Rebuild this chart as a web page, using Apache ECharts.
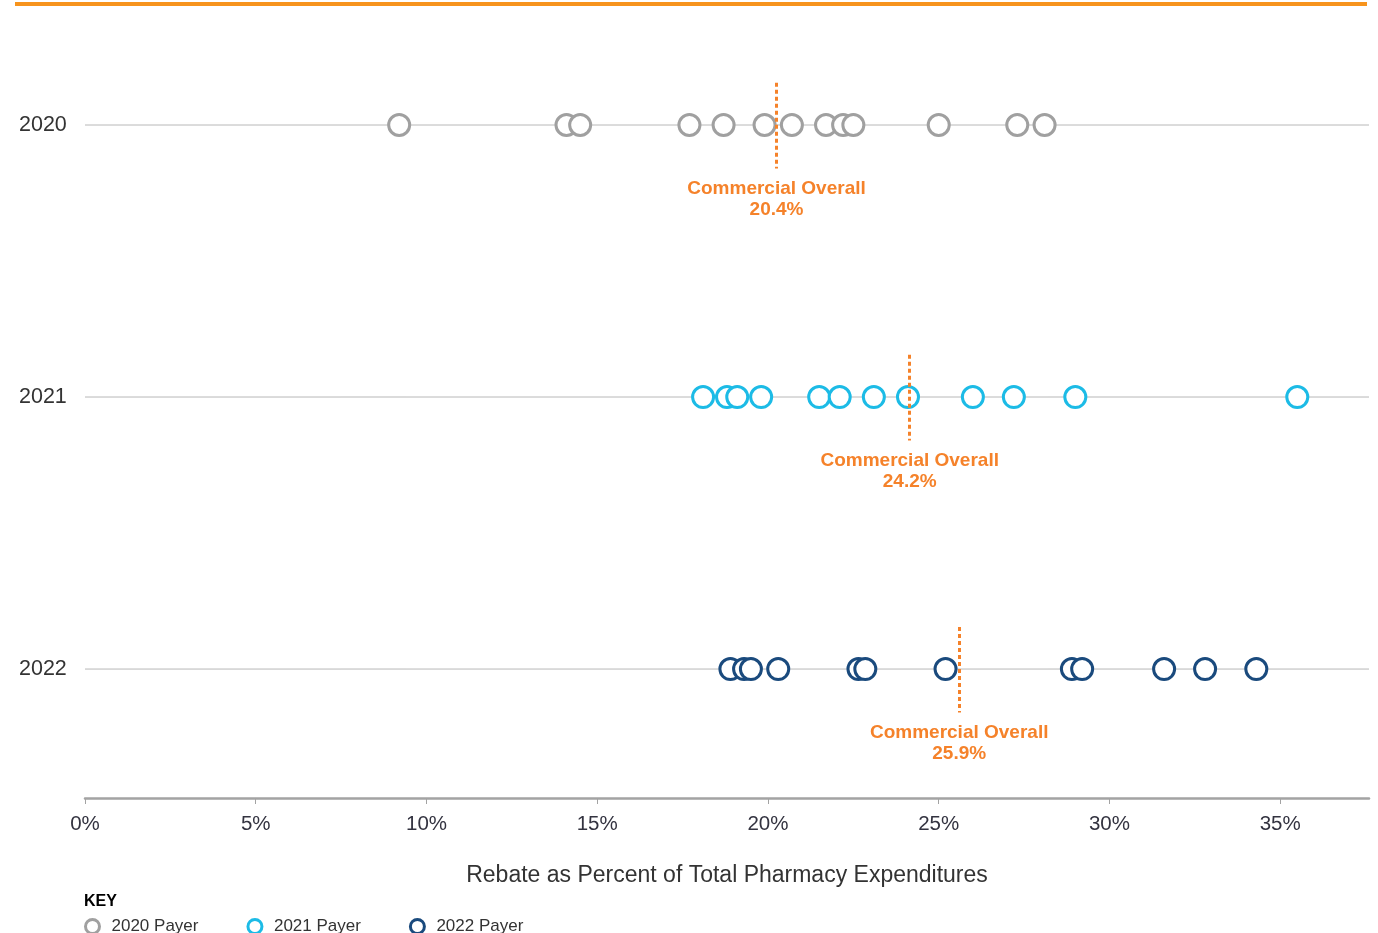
<!DOCTYPE html>
<html>
<head>
<meta charset="utf-8">
<title>Rebate as Percent of Total Pharmacy Expenditures</title>
<script src="https://cdn.jsdelivr.net/npm/echarts@6/dist/echarts.min.js"></script>
<style>
  html, body { margin: 0; padding: 0; background: #fff; }
  #chart { width: 1378px; height: 933px; }
</style>
</head>
<body>
<div id="chart"></div>
<script>
// 年份（从上到下）
const years = ["2020", "2021", "2022"];
const seriesNames = ["2020 Payer", "2021 Payer", "2022 Payer"];
const colors = ["#a0a0a0", "#1cbbe6", "#1a4a7d"];

// 各年度付款方返利比例 (%)
const payers2020 = [9.2, 14.1, 14.5, 17.7, 18.7, 19.9, 20.7, 21.7, 22.2, 22.5, 25.0, 27.3, 28.1];
const payers2021 = [18.1, 18.8, 19.1, 19.8, 21.5, 22.1, 23.1, 24.1, 26.0, 27.2, 29.0, 35.5];
const payers2022 = [18.9, 19.3, 19.5, 20.3, 22.65, 22.85, 25.2, 28.9, 29.2, 31.6, 32.8, 34.3];

// Commercial Overall
const overallLabel = [20.4, 24.2, 25.9];
const overallLinePos = [20.25, 24.15, 25.6];

const xTicks = [0, 5, 10, 15, 20, 25, 30, 35];
const xMax = 37.6;

const payers = [payers2020, payers2021, payers2022];
// 2020 在最上面
const rowOf = (i) => years.length - 1 - i;

const chart = echarts.init(document.getElementById("chart"));

const series = [];
// 行背景线
years.forEach((y, i) => {
  series.push({
    type: "line",
    silent: true,
    z: 1,
    symbol: "none",
    lineStyle: { color: "#b8b8b8", width: 1 },
    data: [[0, rowOf(i)], [xMax, rowOf(i)]]
  });
});
// 散点
payers.forEach((vals, i) => {
  series.push({
    name: seriesNames[i],
    type: "scatter",
    z: 3,
    symbol: "circle",
    symbolSize: 21,
    itemStyle: { color: "#fff", borderColor: colors[i], borderWidth: 3, opacity: 1 },
    emphasis: { disabled: true },
    data: vals.map((v) => [v, rowOf(i)]),
    markLine: {
      silent: true,
      symbol: ["none", "none"],
      lineStyle: { color: "#f5822a", width: 3, type: [4, 3] },
      label: {
        show: true,
        position: "end",
        distance: 10,
        color: "#f5822a",
        fontFamily: "Liberation Sans, Arial, sans-serif",
        fontWeight: "bold",
        fontSize: 19,
        lineHeight: 21,
        align: "center",
        formatter: "Commercial Overall\n" + overallLabel[i].toFixed(1) + "%"
      },
      data: [[
        { coord: [overallLinePos[i], rowOf(i) + 0.155] },
        { coord: [overallLinePos[i], rowOf(i) - 0.16] }
      ]]
    }
  });
});

const option = {
  animation: false,
  backgroundColor: "#fff",
  textStyle: { fontFamily: "Liberation Sans, Arial, sans-serif" },
  title: {
    text: "KEY",
    left: 79,
    top: 889,
    textStyle: { fontSize: 16, fontWeight: "bold", color: "#000" }
  },
  legend: {
    left: 79,
    top: 913,
    itemWidth: 14,
    itemHeight: 14,
    itemGap: 48,
    icon: "circle",
    textStyle: { fontSize: 17, color: "#333", padding: [0, 0, 0, 7] },
    data: seriesNames.map((n, i) => ({
      name: n,
      itemStyle: { color: "#fff", borderColor: colors[i], borderWidth: 3 }
    }))
  },
  graphic: [{
    type: "rect",
    left: 15,
    top: 2,
    shape: { width: 1352, height: 4 },
    style: { fill: "#f7941d" }
  }],
  grid: { left: 85, right: 9, top: 20, bottom: 135 },
  xAxis: {
    type: "value",
    min: 0,
    max: xMax,
    interval: 5,
    name: "Rebate as Percent of Total Pharmacy Expenditures",
    nameLocation: "middle",
    nameGap: 66,
    nameTextStyle: { fontSize: 23, color: "#333" },
    axisLine: { show: true, onZero: false, lineStyle: { color: "#a3a3a3", width: 2.5 } },
    axisTick: { show: true, customValues: xTicks, length: 6, lineStyle: { color: "#a3a3a3", width: 1 } },
    axisLabel: {
      customValues: xTicks,
      margin: 16,
      fontSize: 20.5,
      color: "#333340",
      formatter: "{value}%"
    },
    splitLine: { show: false }
  },
  yAxis: {
    type: "value",
    min: -0.474,
    max: 2.386,
    axisLine: { show: false },
    axisTick: { show: false },
    splitLine: { show: false },
    axisLabel: {
      customValues: years.map((y, i) => rowOf(i)),
      align: "left",
      margin: 66,
      fontSize: 21.5,
      color: "#333",
      formatter: (v) => years[years.length - 1 - Math.round(v)]
    }
  },
  series: series
};

chart.setOption(option);
</script>
</body>
</html>
